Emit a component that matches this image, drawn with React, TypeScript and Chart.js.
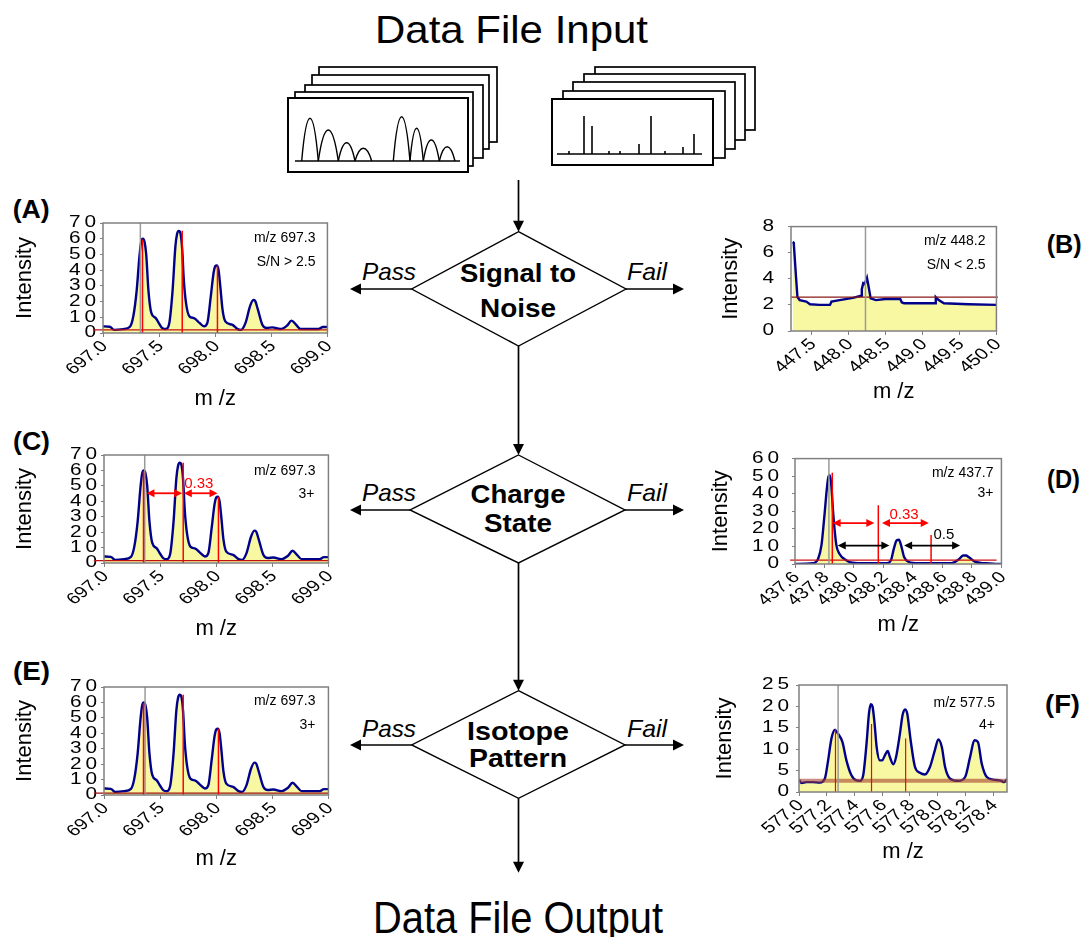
import React, { useEffect, useRef } from 'react';
import { Chart, registerables, LinearScale } from 'chart.js';

const FONT = '"Liberation Sans", Arial, Helvetica, sans-serif';
const NAVY = '#00008b';
const FILL = '#f8f8a2';
const AXIS = '#808080';
const RED = '#ff0000';
const GREY = '#9a9a9a';

// ---------- data ----------
// Spectrum m/z 697.3 (panels A, C, E)
const MZ_697 = [697.0, 697.06, 697.1, 697.18, 697.24, 697.27, 697.3, 697.325, 697.34, 697.355, 697.37, 697.385, 697.405, 697.43, 697.47, 697.5, 697.53, 697.56, 697.59, 697.62, 697.645, 697.66, 697.675, 697.69, 697.705, 697.72, 697.74, 697.77, 697.81, 697.86, 697.9, 697.93, 697.96, 697.985, 698.0, 698.015, 698.03, 698.045, 698.065, 698.09, 698.15, 698.2, 698.23, 698.27, 698.31, 698.34, 698.355, 698.38, 698.42, 698.46, 698.51, 698.58, 698.64, 698.68, 698.72, 698.76, 698.86, 698.92, 698.96, 699.0];
const INT_697 = [4.2, 4, 2, 2.5, 4, 10.6, 27, 49, 58, 60, 58, 50, 27, 13, 9.5, 6, 3, 2.5, 6, 27, 55, 63, 65, 63.5, 54, 34, 19, 10.6, 9.5, 6.4, 4.2, 6.4, 23, 38, 42.5, 43, 40, 30, 15, 7.4, 5.3, 2.5, 2, 6.4, 17, 21, 20.5, 15, 5.3, 3.2, 3.6, 2.5, 4.7, 7.9, 5.3, 2.5, 2.5, 2.5, 3.8, 3.8];
const STICK_MZ_697 = [697.352, 697.706, 698.02];
const STICK_INT_697 = [59.5, 65, 43];
const X_TICKS_697 = [697.0, 697.5, 698.0, 698.5, 699.0];
const Y_TICKS_70 = [0, 10, 20, 30, 40, 50, 60, 70];
const ARROWS_C = [[697.378, 697.696], [697.711, 698.012]];

// Spectrum m/z 448.2 (panel B)
const MZ_448 = [447.245, 447.26, 447.29, 447.31, 447.34, 447.43, 447.48, 447.61, 447.75, 447.77, 447.88, 448.06, 448.17, 448.18, 448.2, 448.22, 448.25, 448.27, 448.3, 448.37, 448.5, 448.7, 448.72, 448.75, 448.95, 449.17, 449.18, 449.22, 449.29, 449.62, 450.0];
const INT_448 = [6.82, 6.77, 4.2, 2.6, 2.37, 2.25, 2.05, 2.0, 2.0, 2.25, 2.37, 2.54, 2.7, 3.2, 3.67, 3.6, 4.08, 3.47, 2.5, 2.37, 2.45, 2.45, 2.2, 2.13, 2.13, 2.13, 2.6, 2.37, 2.13, 2.05, 2.0];
const X_TICKS_448 = [447.5, 448.0, 448.5, 449.0, 449.5, 450.0];
const Y_TICKS_8 = [0, 2, 4, 6, 8];

// Spectrum m/z 437.7 (panel D)
const MZ_437 = [437.6, 437.72, 437.757, 437.78, 437.8, 437.815, 437.825, 437.835, 437.845, 437.86, 437.88, 437.9, 437.95, 437.99, 438.08, 438.22, 438.25, 438.27, 438.29, 438.305, 438.32, 438.34, 438.37, 438.44, 438.66, 438.71, 438.74, 438.76, 438.78, 438.82, 438.89, 439.0];
const INT_437 = [0, 0.4, 3, 11, 28, 42, 49, 50.5, 46, 28, 11, 6, 2, 0.7, 0.4, 0.4, 2, 8.6, 13.5, 13.8, 10.5, 4, 1.3, 0.4, 0.4, 2.6, 4.8, 4.8, 3.8, 1.3, 0.4, 0];
const STICK_MZ_437 = [437.853, 438.165, 438.523];
const STICK_INT_437 = [52, 33.5, 16.5];
const X_TICKS_437 = [437.6, 437.8, 438.0, 438.2, 438.4, 438.6, 438.8, 439.0];
const Y_TICKS_60 = [0, 10, 20, 30, 40, 50, 60];
const ARROWS_D_RED = [[437.855, 438.138], [438.19, 438.507]];
const ARROWS_D_BLACK = [[437.89, 438.24], [438.34, 438.72]];

// Spectrum m/z 577.5 (panel F)
const MZ_577 = [577.0, 577.017, 577.053, 577.1, 577.15, 577.186, 577.21, 577.234, 577.258, 577.28, 577.313, 577.342, 577.378, 577.414, 577.44, 577.463, 577.487, 577.505, 577.518, 577.53, 577.545, 577.56, 577.583, 577.6, 577.62, 577.64, 577.655, 577.68, 577.7, 577.728, 577.747, 577.764, 577.78, 577.805, 577.836, 577.872, 577.908, 577.945, 577.98, 578.005, 578.03, 578.053, 578.09, 578.15, 578.198, 578.234, 578.265, 578.29, 578.318, 578.354, 578.402, 578.46, 578.477, 578.5];
const INT_577 = [2.9, 2.1, 2.3, 2.3, 2.2, 3.1, 7.4, 12.5, 14.5, 13.7, 11.7, 7.4, 3.9, 2.7, 2.6, 3.9, 11.3, 18.5, 20.5, 20, 16, 10.5, 7.4, 7.4, 8.6, 9.6, 8.2, 6.5, 8.2, 13.7, 18, 19.3, 18.4, 12.1, 5.9, 4.5, 4.1, 5.9, 9.8, 12.3, 10.5, 5.9, 3.1, 2.6, 3.5, 8.2, 12.1, 11.7, 6.6, 3.5, 2.9, 2.6, 2.3, 3];
const STICK_MZ_577 = [577.263, 577.523, 577.769];
const STICK_INT_577 = [14.8, 15.9, 12.5];
const X_TICKS_577 = [577.0, 577.2, 577.4, 577.6, 577.8, 578.0, 578.2, 578.4];
const Y_TICKS_25 = [0, 5, 10, 15, 20, 25];

// ---------- linear scale whose tick labels are drawn horizontally widened ----------
const X_LABEL_STRETCH = 1.25;
const Y_LABEL_STRETCH = 1.3;
class StretchedLinearScale extends LinearScale {
  static id = 'stretchedLinear';
  static defaults = LinearScale.defaults;
  drawLabels(chartArea: any) {
    const self: any = this;
    const ctx = self.ctx;
    const horiz = self.isHorizontal();
    const sx = horiz ? X_LABEL_STRETCH : Y_LABEL_STRETCH;
    const items = self.getLabelItems(chartArea);
    for (const item of items) {
      const o = item.options;
      ctx.save();
      ctx.font = item.font.string;
      ctx.fillStyle = o.color;
      ctx.textAlign = o.textAlign;
      ctx.textBaseline = o.textBaseline;
      if (!horiz) ctx.letterSpacing = '3px';
      ctx.translate(o.translation[0], o.translation[1]);
      ctx.scale(sx, 1);
      if (o.rotation) ctx.rotate(o.rotation);
      ctx.fillText(String(item.label), 0, item.textOffset);
      ctx.restore();
    }
  }
}
Chart.register(...registerables, StretchedLinearScale as any);
Chart.defaults.font.family = FONT;

interface Panel {
  key: string;
  box: { l: number; t: number; w: number; h: number };
  yW: number; xH: number; padTop: number; padRight: number; yPad: number;
  mz: number[]; inten: number[]; smooth: boolean;
  xMin: number; xMax: number; xTicks: number[];
  yMax: number; yTicks: number[];
  sticksX: number[]; sticksY: number[]; stickW: number;
  grey: number;
  base: { x: number[]; y: number; color: string; width: number };
  notes: { text: string; dx: number; dy: number }[];
  arrows: { x: number[]; y: number; color: string }[];
  labels: { text: string; x: number; y: number; color: string }[];
}

const pts = (xs: number[], ys: number[]) => xs.map((x, i) => ({ x, y: ys[i] }));

function makeAnnotations(p: Panel) {
  return {
    id: 'annot_' + p.key,
    afterDatasetsDraw(chart: any) {
      const { ctx, chartArea: a, scales } = chart;
      const sx = scales.x, sy = scales.y;
      ctx.save();
      ctx.strokeStyle = AXIS;
      ctx.lineWidth = 1.5;
      ctx.strokeRect(a.left, a.top, a.right - a.left, a.bottom - a.top);
      ctx.fillStyle = '#000';
      ctx.font = `14px ${FONT}`;
      ctx.textAlign = 'right';
      ctx.textBaseline = 'alphabetic';
      p.notes.forEach((n) => ctx.fillText(n.text, a.right - n.dx, a.top + n.dy));
      const head = (x: number, y: number, dir: number) => {
        ctx.beginPath();
        ctx.moveTo(x, y);
        ctx.lineTo(x - dir * 8, y - 4);
        ctx.lineTo(x - dir * 8, y + 4);
        ctx.closePath();
        ctx.fill();
      };
      p.arrows.forEach((ar) => {
        const x1 = sx.getPixelForValue(ar.x[0]);
        const x2 = sx.getPixelForValue(ar.x[1]);
        const y = sy.getPixelForValue(ar.y);
        ctx.strokeStyle = ar.color;
        ctx.fillStyle = ar.color;
        ctx.lineWidth = 1.8;
        ctx.beginPath();
        ctx.moveTo(x1 + 4, y);
        ctx.lineTo(x2 - 4, y);
        ctx.stroke();
        head(x1, y, -1);
        head(x2, y, 1);
      });
      ctx.font = `15px ${FONT}`;
      ctx.textAlign = 'center';
      p.labels.forEach((l) => {
        ctx.fillStyle = l.color;
        ctx.fillText(l.text, sx.getPixelForValue(l.x), sy.getPixelForValue(l.y));
      });
      ctx.restore();
    },
  };
}

function buildConfig(p: Panel): any {
  const datasets: any[] = [
    {
      data: pts(p.mz, p.inten),
      borderColor: NAVY,
      borderWidth: 2.4,
      backgroundColor: FILL,
      fill: 'origin',
      tension: p.smooth ? 0.4 : 0,
      cubicInterpolationMode: p.smooth ? 'monotone' : 'default',
      pointRadius: 0,
      order: 5,
    },
    {
      data: [{ x: p.base.x[0], y: p.base.y }, { x: p.base.x[1], y: p.base.y }],
      borderColor: p.base.color,
      borderWidth: p.base.width,
      pointRadius: 0,
      fill: false,
      clip: false,
      order: 3,
    },
    {
      data: [{ x: p.grey, y: 0 }, { x: p.grey, y: p.yMax }],
      borderColor: GREY,
      borderWidth: 1.5,
      pointRadius: 0,
      fill: false,
      order: 2,
    },
  ];
  p.sticksX.forEach((x, i) => {
    datasets.push({
      data: [{ x, y: 0 }, { x, y: p.sticksY[i] }],
      borderColor: RED,
      borderWidth: p.stickW,
      pointRadius: 0,
      fill: false,
      order: 1,
    });
  });
  return {
    type: 'line',
    data: { datasets },
    plugins: [makeAnnotations(p)],
    options: {
      responsive: false,
      animation: false,
      events: [],
      layout: { padding: { left: 0, top: p.padTop, right: p.padRight, bottom: 0 } },
      plugins: { legend: { display: false }, tooltip: { enabled: false }, title: { display: false } },
      scales: {
        x: {
          type: 'stretchedLinear',
          min: p.xMin,
          max: p.xMax,
          afterBuildTicks: (s: any) => { s.ticks = p.xTicks.map((v) => ({ value: v })); },
          afterFit: (s: any) => { s.height = p.xH; },
          ticks: {
            autoSkip: false,
            minRotation: 45,
            maxRotation: 45,
            padding: 0,
            color: '#000',
            font: { size: 16, family: FONT },
            callback: (v: any) => Number(v).toFixed(1),
          },
          grid: { drawOnChartArea: false, drawTicks: true, tickLength: 4, color: AXIS },
          border: { display: false },
          title: { display: true, text: 'm /z', color: '#000', padding: 0, font: { size: 22, family: FONT, lineHeight: 1.2 } },
        },
        y: {
          type: 'stretchedLinear',
          min: 0,
          max: p.yMax,
          afterBuildTicks: (s: any) => { s.ticks = p.yTicks.map((v) => ({ value: v })); },
          afterFit: (s: any) => { s.width = p.yW; },
          ticks: {
            autoSkip: false,
            padding: p.yPad,
            color: '#000',
            font: { size: 16, family: FONT },
            callback: (v: any) => String(v),
          },
          grid: { drawOnChartArea: false, drawTicks: true, tickLength: 3, color: AXIS },
          border: { display: false },
          title: { display: true, text: 'Intensity', color: '#000', padding: 0, font: { size: 22, family: FONT, lineHeight: 1.2 } },
        },
      },
    },
  };
}

const PANELS: Panel[] = [
  {
    key: 'A', box: { l: 12, t: 208, w: 329, h: 204 }, yW: 91, xH: 79, padTop: 15, padRight: 12, yPad: 0,
    mz: MZ_697, inten: INT_697, smooth: true, xMin: 697.0, xMax: 699.0, xTicks: X_TICKS_697,
    yMax: 70, yTicks: Y_TICKS_70, sticksX: STICK_MZ_697, sticksY: STICK_INT_697, stickW: 1.5, grey: 697.333,
    base: { x: [696.91, 699.0], y: 2.0, color: '#c01010', width: 1.3 },
    notes: [{ text: 'm/z 697.3', dx: 12, dy: 19 }, { text: 'S/N > 2.5', dx: 12, dy: 43 }],
    arrows: [], labels: [],
  },
  {
    key: 'B', box: { l: 718, t: 207, w: 292, h: 198 }, yW: 73, xH: 74, padTop: 15, padRight: 12, yPad: 10,
    mz: MZ_448, inten: INT_448, smooth: false, xMin: 447.223, xMax: 450.0, xTicks: X_TICKS_448,
    yMax: 8, yTicks: Y_TICKS_8, sticksX: [], sticksY: [], stickW: 1.5, grey: 448.23,
    base: { x: [447.223, 450.02], y: 2.6, color: '#8b1a1a', width: 1.3 },
    notes: [{ text: 'm/z 448.2', dx: 11, dy: 18 }, { text: 'S/N < 2.5', dx: 11, dy: 42 }],
    arrows: [], labels: [],
  },
  {
    key: 'C', box: { l: 12, t: 440, w: 330, h: 202 }, yW: 92, xH: 79, padTop: 15, padRight: 12, yPad: 0,
    mz: MZ_697, inten: INT_697, smooth: true, xMin: 697.0, xMax: 699.0, xTicks: X_TICKS_697,
    yMax: 70, yTicks: Y_TICKS_70, sticksX: STICK_MZ_697, sticksY: STICK_INT_697, stickW: 1.5, grey: 697.363,
    base: { x: [696.91, 699.0], y: 1.5, color: '#c01010', width: 1.3 },
    notes: [{ text: 'm/z 697.3', dx: 13, dy: 20 }, { text: '3+', dx: 14, dy: 43 }],
    arrows: ARROWS_C.map((x) => ({ x, y: 45.2, color: RED })),
    labels: [{ text: '0.33', x: 697.845, y: 48.4, color: RED }],
  },
  {
    key: 'D', box: { l: 708, t: 440, w: 307, h: 198 }, yW: 87, xH: 74, padTop: 15, padRight: 12, yPad: 9,
    mz: MZ_437, inten: INT_437, smooth: true, xMin: 437.6, xMax: 439.0, xTicks: X_TICKS_437,
    yMax: 60, yTicks: Y_TICKS_60, sticksX: STICK_MZ_437, sticksY: STICK_INT_437, stickW: 1.5, grey: 437.83,
    base: { x: [437.567, 438.967], y: 2.2, color: '#d01010', width: 1.3 },
    notes: [{ text: 'm/z 437.7', dx: 8, dy: 18 }, { text: '3+', dx: 8, dy: 38 }],
    arrows: [
      ...ARROWS_D_RED.map((x) => ({ x, y: 23.3, color: RED })),
      ...ARROWS_D_BLACK.map((x) => ({ x, y: 10.5, color: '#000' })),
    ],
    labels: [
      { text: '0.33', x: 438.34, y: 25.7, color: RED },
      { text: '0.5', x: 438.61, y: 14.1, color: '#000' },
    ],
  },
  {
    key: 'E', box: { l: 12, t: 672, w: 330, h: 200 }, yW: 92, xH: 77, padTop: 15, padRight: 12, yPad: 0,
    mz: MZ_697, inten: INT_697, smooth: true, xMin: 697.0, xMax: 699.0, xTicks: X_TICKS_697,
    yMax: 70, yTicks: Y_TICKS_70, sticksX: STICK_MZ_697, sticksY: STICK_INT_697, stickW: 1.5, grey: 697.366,
    base: { x: [696.91, 699.0], y: 1.2, color: '#a01010', width: 1.3 },
    notes: [{ text: 'm/z 697.3', dx: 13, dy: 18 }, { text: '3+', dx: 13, dy: 42 }],
    arrows: [], labels: [],
  },
  {
    key: 'F', box: { l: 712, t: 670, w: 307, h: 195 }, yW: 87, xH: 73, padTop: 15, padRight: 12, yPad: 3,
    mz: MZ_577, inten: INT_577, smooth: true, xMin: 577.0, xMax: 578.5, xTicks: X_TICKS_577,
    yMax: 25, yTicks: Y_TICKS_25, sticksX: STICK_MZ_577, sticksY: STICK_INT_577, stickW: 1.2, grey: 577.282,
    base: { x: [577.0, 578.5], y: 2.6, color: 'rgba(165,65,45,0.6)', width: 4 },
    notes: [{ text: 'm/z 577.5', dx: 12, dy: 22 }, { text: '4+', dx: 12, dy: 44 }],
    arrows: [], labels: [],
  },
];

function SpectrumChart({ panel }: { panel: Panel }) {
  const ref = useRef<HTMLCanvasElement>(null);
  useEffect(() => {
    const chart = new Chart(ref.current as HTMLCanvasElement, buildConfig(panel));
    return () => chart.destroy();
  }, [panel]);
  const b = panel.box;
  return (
    <canvas
      ref={ref}
      width={b.w}
      height={b.h}
      style={{ position: 'absolute', left: b.l, top: b.t, width: b.w, height: b.h }}
    />
  );
}

// ---------- flowchart (decorative) ----------
const LEFT_STACK = [
  [319, 67, 497, 142], [312, 75, 489, 149], [305, 85, 483, 158], [295, 92, 473, 166], [288, 98, 468, 172],
];
const RIGHT_STACK = [
  [595, 67, 755, 130], [584, 74, 745, 140], [573, 82, 735, 149], [563, 91, 725, 158], [552, 99, 713, 165],
];
const ICON_HUMPS = [
  [301.7, 318.3, 118.3], [318.3, 338.3, 130], [338.3, 355, 142.7], [355, 371.7, 148.3],
  [393.3, 410, 116.7], [410, 423.3, 128.3], [423.3, 439.3, 140], [439.3, 455, 146.7],
];
const ICON_STICKS_X = [569, 584, 592, 609, 620, 639, 651, 665, 683, 694];
const ICON_STICKS_TOP = [151, 116, 126, 151, 151, 144, 116, 151, 147, 134];

const DIAMONDS = [
  { top: 231.7, cy: 289, bot: 346, l: 411.7, r: 626, lines: [['Signal to', 282, 116], ['Noise', 317, 76]], passY: 280 },
  { top: 455, cy: 510, bot: 563, l: 410, r: 625, lines: [['Charge', 503, 95], ['State', 532, 68]], passY: 500.7 },
  { top: 690.7, cy: 745, bot: 798.3, l: 411.7, r: 625, lines: [['Isotope', 740, 102], ['Pattern', 767, 98]], passY: 736.7 },
];

const PANEL_LABELS: [string, number, number, number][] = [
  ['(A)', 12.7, 218, 37], ['(B)', 1046.7, 253, 35], ['(C)', 13, 450, 37],
  ['(D)', 1047, 488, 33], ['(E)', 13, 680, 37], ['(F)', 1045, 713, 35],
];

function Flow() {
  const X = 518.5;
  const vArrows = [[180, 231.7], [346, 455], [563, 690.7], [798.3, 872.7]];
  const B = 161;
  return (
    <svg width={1088} height={937} style={{ position: 'absolute', left: 0, top: 0 }} fontFamily={FONT}>
      <text x={511.5} y={43} fontSize={39} textAnchor="middle" textLength={273} lengthAdjust="spacingAndGlyphs">Data File Input</text>
      <text x={518} y={933} fontSize={45} textAnchor="middle" textLength={290} lengthAdjust="spacingAndGlyphs">Data File Output</text>

      {LEFT_STACK.map(([x1, y1, x2, y2], i) => (
        <rect key={'ls' + i} x={x1} y={y1} width={x2 - x1} height={y2 - y1} fill="#fff" stroke="#000" strokeWidth={i === 4 ? 2 : 1.7} />
      ))}
      <line x1={295} y1={B} x2={460} y2={B} stroke="#000" strokeWidth={1.5} />
      {ICON_HUMPS.map(([x0, x1, top], i) => {
        const w = x1 - x0;
        const c = top - (B - top) / 3;
        return (
          <path key={'h' + i} d={`M ${x0} ${B} C ${x0 + w * 0.3} ${c} ${x1 - w * 0.3} ${c} ${x1} ${B}`} fill="none" stroke="#000" strokeWidth={1.4} />
        );
      })}
      {RIGHT_STACK.map(([x1, y1, x2, y2], i) => (
        <rect key={'rs' + i} x={x1} y={y1} width={x2 - x1} height={y2 - y1} fill="#fff" stroke="#000" strokeWidth={i === 4 ? 2 : 1.7} />
      ))}
      <line x1={557} y1={154} x2={702} y2={154} stroke="#000" strokeWidth={1.5} />
      {ICON_STICKS_X.map((x, i) => (
        <line key={'st' + i} x1={x} y1={154} x2={x} y2={ICON_STICKS_TOP[i]} stroke="#000" strokeWidth={1.6} />
      ))}

      {vArrows.map(([y1, y2], i) => (
        <g key={'va' + i}>
          <line x1={X} y1={y1} x2={X} y2={y2 - 9} stroke="#000" strokeWidth={1.7} />
          <polygon points={`${X - 5.5},${y2 - 11} ${X + 5.5},${y2 - 11} ${X},${y2}`} fill="#000" />
        </g>
      ))}

      {DIAMONDS.map((d, i) => (
        <g key={'d' + i}>
          <polygon points={`${X},${d.top} ${d.r},${d.cy} ${X},${d.bot} ${d.l},${d.cy}`} fill="none" stroke="#000" strokeWidth={1.4} />
          <line x1={d.l} y1={d.cy} x2={359} y2={d.cy} stroke="#000" strokeWidth={1.7} />
          <polygon points={`${361},${d.cy - 5.5} ${361},${d.cy + 5.5} ${350},${d.cy}`} fill="#000" />
          <line x1={d.r} y1={d.cy} x2={675} y2={d.cy} stroke="#000" strokeWidth={1.7} />
          <polygon points={`${673},${d.cy - 5.5} ${673},${d.cy + 5.5} ${684},${d.cy}`} fill="#000" />
          {d.lines.map(([t, y, w]: any, j: number) => (
            <text key={j} x={518} y={y} fontSize={26} fontWeight="bold" textAnchor="middle" textLength={w} lengthAdjust="spacingAndGlyphs">{t}</text>
          ))}
          <text x={362} y={d.passY} fontSize={24} fontStyle="italic" textLength={54} lengthAdjust="spacingAndGlyphs">Pass</text>
          <text x={627} y={d.passY} fontSize={24} fontStyle="italic" textLength={40} lengthAdjust="spacingAndGlyphs">Fail</text>
        </g>
      ))}

      {PANEL_LABELS.map(([t, x, y, w]) => (
        <text key={t} x={x} y={y} fontSize={26} fontWeight="bold" textLength={w} lengthAdjust="spacingAndGlyphs">{t}</text>
      ))}
    </svg>
  );
}

export default function App() {
  return (
    <div style={{ position: 'absolute', left: 0, top: 0, width: 1088, height: 937, background: '#fff', overflow: 'hidden' }}>
      <Flow />
      {PANELS.map((p) => (
        <SpectrumChart key={p.key} panel={p} />
      ))}
    </div>
  );
}
